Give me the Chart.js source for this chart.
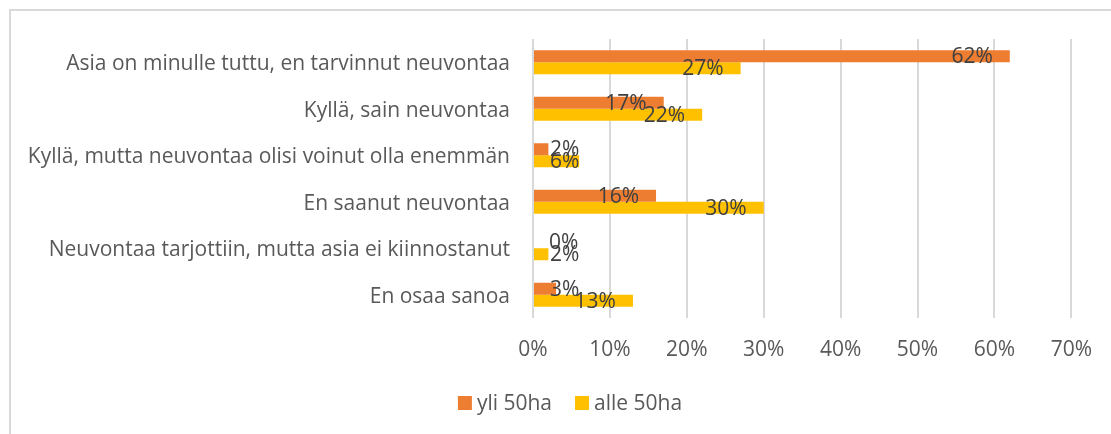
<!DOCTYPE html>
<html>
<head>
<meta charset="utf-8">
<script src="https://cdn.jsdelivr.net/npm/chart.js@4/dist/chart.umd.min.js"></script>
<style>
  html, body { margin: 0; padding: 0; background: #fff; overflow: hidden; }
  #wrap { position: relative; width: 1111px; height: 434px; }
  #frame { position: absolute; left: 9px; top: 9px; width: 1200px; height: 500px; border: 2px solid #d9d9d9; pointer-events: none; box-sizing: border-box; }
  canvas { position: absolute; left: 0; top: 0; }
</style>
</head>
<body>
<div id="wrap">
  <canvas id="c" width="1111" height="434"></canvas>
  <div id="frame"></div>
</div>
<script>
const categories = [
  "Asia on minulle tuttu, en tarvinnut neuvontaa",
  "Kyllä, sain neuvontaa",
  "Kyllä, mutta neuvontaa olisi voinut olla enemmän",
  "En saanut neuvontaa",
  "Neuvontaa tarjottiin, mutta asia ei kiinnostanut",
  "En osaa sanoa"
];
const seriesNames = ["yli 50ha", "alle 50ha"];
const yli50 = [62, 17, 2, 16, 0, 3];
const alle50 = [27, 22, 6, 30, 2, 13];
const xTicks = [0, 10, 20, 30, 40, 50, 60, 70];

const FONT = "'Open Sans', sans-serif";
const FS = 21;

const labelPlugin = {
  id: 'barLabels',
  afterDatasetsDraw(chart) {
    const ctx = chart.ctx;
    ctx.save();
    ctx.font = FS + "px " + FONT;
    ctx.fillStyle = '#404040';
    ctx.textAlign = 'left';
    ctx.textBaseline = 'middle';
    chart.data.datasets.forEach((ds, di) => {
      const meta = chart.getDatasetMeta(di);
      meta.data.forEach((el, i) => {
        const txt = ds.data[i] + '%';
        const w = ctx.measureText(txt).width;
        const x = Math.max(el.x - 17 - w, el.base + 16);
        ctx.fillText(txt, x, el.y + 1);
      });
    });
    ctx.restore();
  }
};

const legendPlugin = {
  id: 'customLegend',
  afterDraw(chart) {
    const ctx = chart.ctx;
    ctx.save();
    ctx.font = FS + "px " + FONT;
    ctx.textBaseline = 'middle';
    ctx.textAlign = 'left';
    const box = 14, textGap = 5, itemGap = 23, cy = 403, center = 570;
    const items = chart.data.datasets.map(ds => ({ text: ds.label, color: ds.backgroundColor, w: ctx.measureText(ds.label).width }));
    let total = 0;
    items.forEach((it, i) => { total += box + textGap + it.w + (i < items.length - 1 ? itemGap : 0); });
    let x = center - total / 2;
    items.forEach(it => {
      ctx.fillStyle = it.color;
      ctx.fillRect(x, cy - box / 2, box, box);
      ctx.fillStyle = '#595959';
      ctx.fillText(it.text, x + box + textGap, cy + 1);
      x += box + textGap + it.w + itemGap;
    });
    ctx.restore();
  }
};

new Chart(document.getElementById('c'), {
  type: 'bar',
  data: {
    labels: categories,
    datasets: [
      { label: seriesNames[0], data: yli50, backgroundColor: '#ED7D31', borderWidth: 0 },
      { label: seriesNames[1], data: alle50, backgroundColor: '#FFC000', borderWidth: 0 }
    ]
  },
  options: {
    indexAxis: 'y',
    responsive: false,
    animation: false,
    layout: { padding: { left: 0, right: 39, top: 39, bottom: 50 } },
    datasets: { bar: { categoryPercentage: 0.516, barPercentage: 1.0 } },
    scales: {
      x: {
        min: 0, max: 70,
        afterBuildTicks(scale) { scale.ticks = xTicks.map(v => ({ value: v })); },
        afterFit(scale) { scale.height = 66; },
        ticks: {
          callback: v => v + '%',
          color: '#595959',
          font: { family: FONT, size: FS },
          padding: 19,
          maxRotation: 0
        },
        grid: { color: '#d9d9d9', lineWidth: 2, drawTicks: false },
        border: { display: false }
      },
      y: {
        afterFit(scale) { scale.width = 533; },
        ticks: {
          color: '#595959',
          font: { family: FONT, size: FS },
          padding: 23,
          labelOffset: 2
        },
        grid: { display: false, drawTicks: false },
        border: { display: false }
      }
    },
    plugins: {
      legend: { display: false },
      tooltip: { enabled: false }
    }
  },
  plugins: [labelPlugin, legendPlugin]
});
</script>
</body>
</html>
